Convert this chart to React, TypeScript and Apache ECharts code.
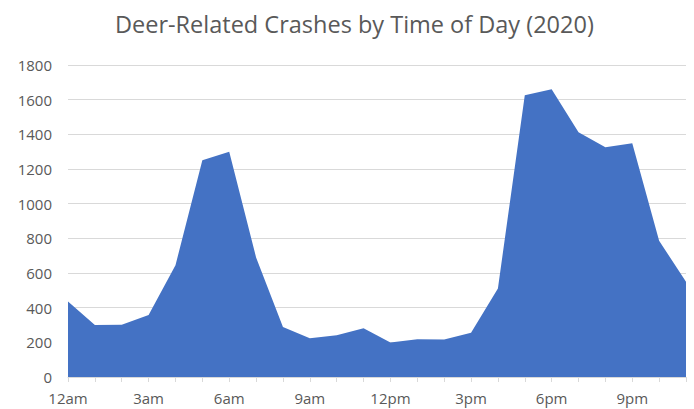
import React, { useEffect, useRef } from "react";
import * as echarts from "echarts";

const hours = [
  "12am", "1am", "2am", "3am", "4am", "5am", "6am", "7am", "8am", "9am", "10am", "11am",
  "12pm", "1pm", "2pm", "3pm", "4pm", "5pm", "6pm", "7pm", "8pm", "9pm", "10pm", "11pm",
];
const crashes = [
  435, 300, 302, 358, 645, 1250, 1300, 690, 289, 223, 241, 281,
  199, 218, 216, 256, 511, 1625, 1660, 1412, 1325, 1348, 786, 549,
];
const yTicks = { min: 0, max: 1800, interval: 200 };
const title = "Deer-Related Crashes by Time of Day (2020)";

export default function App() {
  const ref = useRef<HTMLDivElement>(null);
  useEffect(() => {
    if (!ref.current) return;
    const chart = echarts.init(ref.current, undefined, { renderer: "svg" });
    chart.setOption({
      animation: false,
      title: {
        text: title,
        left: 110,
        top: 7,
        textStyle: {
          fontFamily: "Open Sans",
          fontSize: 23.5,
          fontWeight: "normal",
          color: "#595959",
        },
      },
      grid: { left: 68, right: 8, top: 65, bottom: 32 },
      xAxis: {
        type: "category",
        data: hours,
        boundaryGap: false,
        axisLine: { lineStyle: { color: "#d9d9d9" } },
        axisTick: { show: true, interval: 0, length: 5, lineStyle: { color: "#d9d9d9" } },
        axisLabel: {
          interval: 2,
          color: "#595959",
          fontFamily: "Open Sans",
          fontSize: 15,
          margin: 13,
        },
        splitLine: { show: false },
      },
      yAxis: {
        type: "value",
        min: yTicks.min,
        max: yTicks.max,
        interval: yTicks.interval,
        axisLine: { show: false },
        axisTick: { show: false },
        axisLabel: {
          color: "#595959",
          fontFamily: "Open Sans",
          fontSize: 15,
          margin: 16,
          formatter: (v: number) => String(v),
        },
        splitLine: { lineStyle: { color: "#d9d9d9" } },
      },
      series: [
        {
          type: "line",
          data: crashes,
          symbol: "none",
          lineStyle: { width: 0 },
          areaStyle: { color: "#4472C4", opacity: 1 },
          itemStyle: { color: "#4472C4" },
        },
      ],
    });
    return () => chart.dispose();
  }, []);
  return <div ref={ref} style={{ width: 694, height: 409, position: "absolute", left: 0, top: 0 }} />;
}
